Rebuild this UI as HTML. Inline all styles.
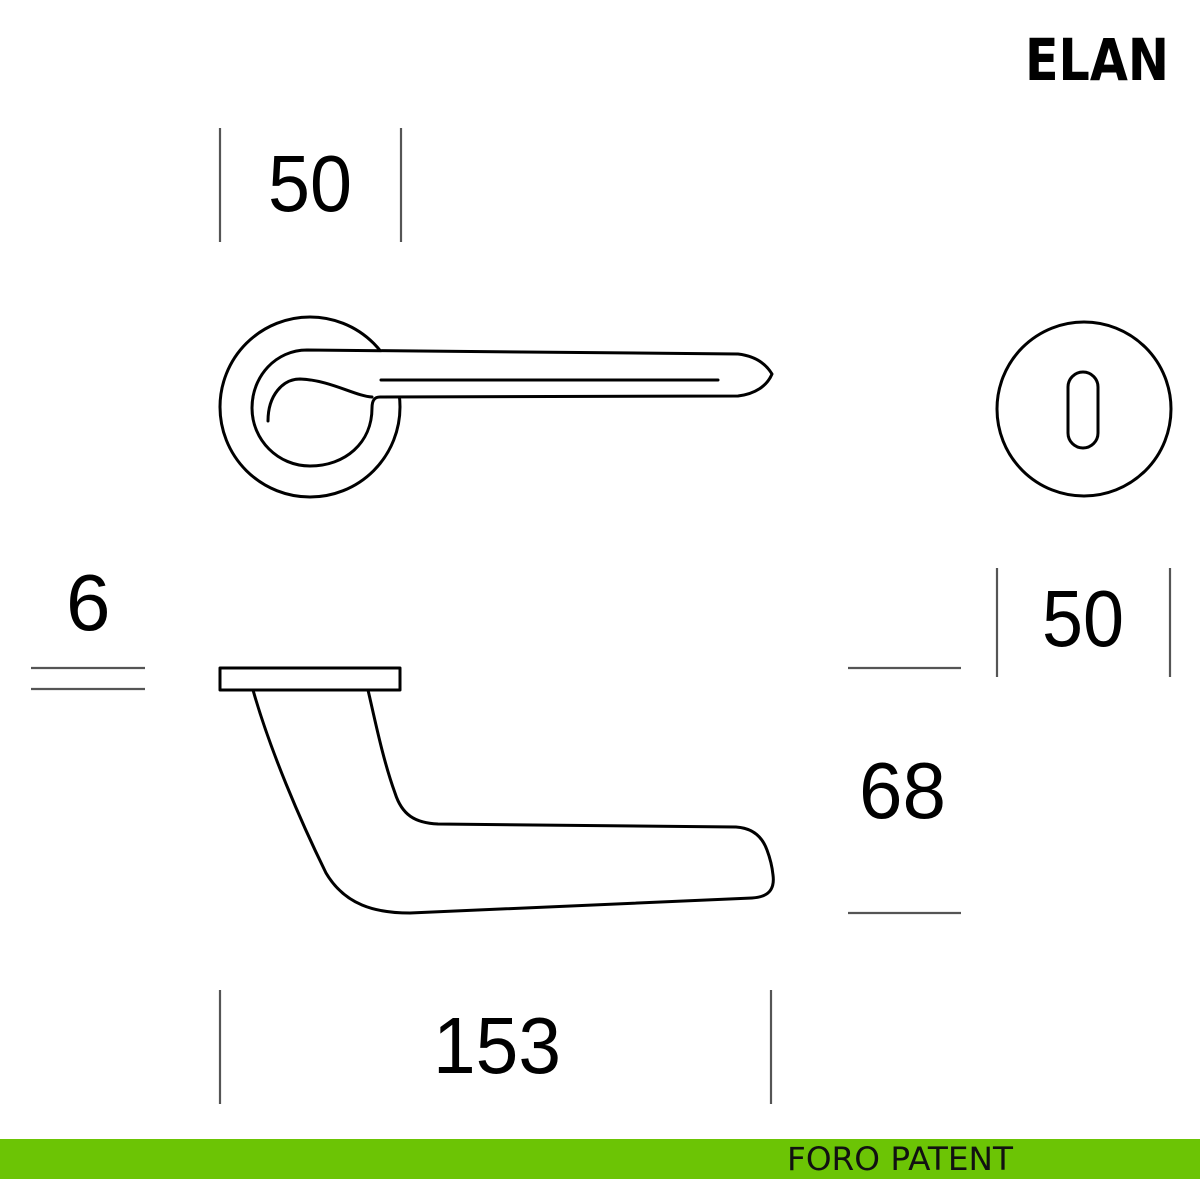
<!DOCTYPE html>
<html><head><meta charset="utf-8"><style>
html,body{margin:0;padding:0;background:#fff;}
svg{display:block;}
</style></head><body>
<svg width="1200" height="1200" viewBox="0 0 1200 1200" xmlns="http://www.w3.org/2000/svg">
<rect width="1200" height="1200" fill="#fff"/>
<text x="1025" y="80" font-family="DejaVu Sans, Liberation Sans, sans-serif" font-weight="bold" font-size="58" textLength="144" lengthAdjust="spacingAndGlyphs">ELAN</text>

<g stroke="#555" stroke-width="2.2" fill="none">
<line x1="220" y1="128" x2="220" y2="242"/>
<line x1="401" y1="128" x2="401" y2="242"/>
<line x1="31" y1="668" x2="145" y2="668"/>
<line x1="31" y1="689" x2="145" y2="689"/>
<line x1="997" y1="568" x2="997" y2="677"/>
<line x1="1170" y1="568" x2="1170" y2="677"/>
<line x1="848" y1="668" x2="961" y2="668"/>
<line x1="848" y1="913" x2="961" y2="913"/>
<line x1="220" y1="990" x2="220" y2="1104"/>
<line x1="771" y1="990" x2="771" y2="1104"/>
</g>

<g font-family="Liberation Sans, sans-serif" font-size="80" fill="#000">
<text x="268" y="211" textLength="84" lengthAdjust="spacingAndGlyphs">50</text>
<text x="66" y="630">6</text>
<text x="1042" y="646" textLength="82" lengthAdjust="spacingAndGlyphs">50</text>
<text x="859" y="818" textLength="87" lengthAdjust="spacingAndGlyphs">68</text>
<text x="433" y="1073" textLength="128" lengthAdjust="spacingAndGlyphs">153</text>
</g>

<g stroke="#000" stroke-width="3" fill="none" stroke-linejoin="round" stroke-linecap="round">
<circle cx="310" cy="407" r="90"/>
<path d="M372,397 C372,390 374,387 378,385 L404,397 Z" fill="#fff" stroke="none"/>
<path d="M307,350 L738,354 C755,356 766,364 772,374 C767,386 755,394 738,396 L380,397 C374,397 372,401 372,408 C372,443 345,466 310,466 C278,466 252,440 252,408 C252,376 276,350 307,350 Z" fill="#fff"/>
<path d="M372,397 C355,396 330,380 300,379 C283,379 268,395 268,421"/>
<line x1="381" y1="380" x2="718" y2="380"/>
<circle cx="1084" cy="409" r="87"/>
<rect x="1068" y="372" width="30" height="76" rx="15"/>
<rect x="220" y="668" width="180" height="22"/>
<path d="M253,690 C270,750 300,820 326,873 C345,905 375,913 410,913 L752,898 C768,897 775,890 773,875 C772,865 770,858 767,850 C762,836 752,828 736,827 L438,824 C415,823 402,815 395,793 C383,760 375,720 368,690"/>
</g>

<rect x="0" y="1139" width="1200" height="40" fill="#6cc405"/>
<text x="787" y="1170" font-family="DejaVu Sans, Liberation Sans, sans-serif" font-size="32" fill="#111" textLength="226" lengthAdjust="spacingAndGlyphs">FORO PATENT</text>
</svg>
</body></html>
